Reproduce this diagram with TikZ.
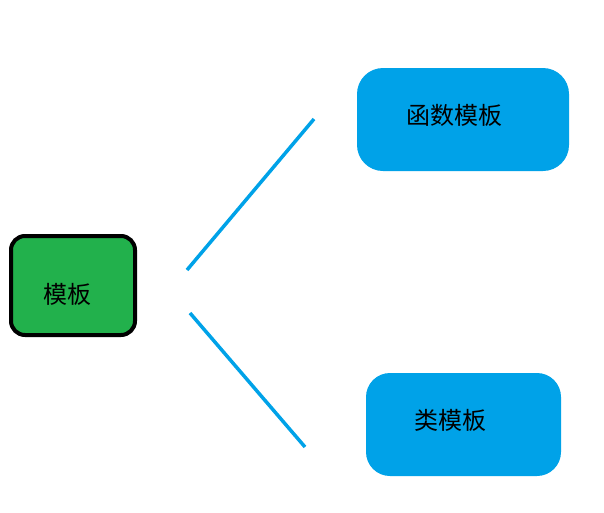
\documentclass[tikz,border=0pt]{standalone}
\usepackage{fontspec}
\newfontfamily\cjk{Noto Sans CJK SC}
\definecolor{gr}{HTML}{22B14C}
\definecolor{bl}{HTML}{00A2E8}
\begin{document}
\begin{tikzpicture}[x=1pt,y=-1pt,
  txt/.style={font=\cjk\fontsize{24}{28}\selectfont,text=black},
  line/.style={draw=bl,line width=3.5pt}]
\useasboundingbox (0,0) rectangle (604,512);
\node[draw=black,line width=4pt,fill=gr,rounded corners=14pt,minimum width=124pt,minimum height=99pt] (m) at (73,285.5) {};
\node[txt] (mt) at (67,294) {模板};
\node[fill=bl,rounded corners=26pt,minimum width=212pt,minimum height=103pt] (f) at (463,119.5) {};
\node[txt] (ft) at (454,115) {函数模板};
\node[fill=bl,rounded corners=24pt,minimum width=195pt,minimum height=103pt] (c) at (463.5,424.5) {};
\node[txt] (ct) at (450,420) {类模板};
\coordinate (a1) at (187,270); \coordinate (a2) at (314,119);
\coordinate (b1) at (190,313); \coordinate (b2) at (305,447);
\draw[line] (a1) -- (a2);
\draw[line] (b1) -- (b2);
\end{tikzpicture}
\end{document}
